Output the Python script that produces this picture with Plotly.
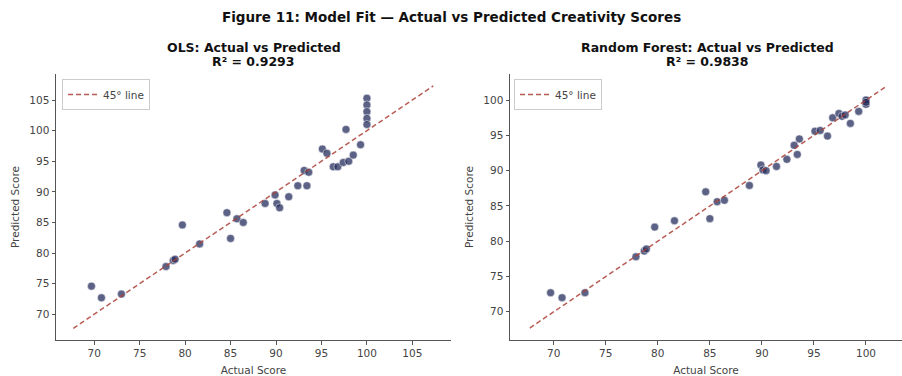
import plotly.graph_objects as go

# ---- data ----
actual = [69.7, 70.8, 73.0, 77.9, 78.7, 78.9, 79.7, 81.6, 84.6, 85.0,
          85.7, 86.4, 88.8, 89.9, 90.1, 90.4, 91.4, 92.4, 93.4, 93.1,
          93.6, 95.1, 95.6, 96.3, 96.8, 97.4, 97.7, 98.0, 98.5, 99.3,
          100.0, 100.0, 100.0, 100.0, 100.0]
pred_ols = [74.6, 72.7, 73.3, 77.8, 78.8, 79.0, 84.6, 81.5, 86.6, 82.4,
            85.6, 85.0, 88.1, 89.5, 88.1, 87.4, 89.2, 91.0, 91.0, 93.5,
            93.2, 97.0, 96.3, 94.1, 94.1, 94.8, 100.2, 95.0, 96.0, 97.7,
            105.3, 104.2, 103.1, 102.0, 101.0]
pred_rf = [72.7, 72.0, 72.7, 77.8, 78.6, 78.9, 82.0, 82.9, 87.0, 83.2,
           85.6, 85.8, 87.9, 90.8, 90.1, 90.0, 90.6, 91.6, 92.3, 93.6,
           94.5, 95.6, 95.7, 94.9, 97.5, 98.1, 97.7, 97.9, 96.7, 98.4,
           99.9, 99.6, 99.4, 100.0, 99.7]

fig_title = "Figure 11: Model Fit \u2014 Actual vs Predicted Creativity Scores"
panel_titles = [["OLS: Actual vs Predicted", "R\u00b2 = 0.9293"],
                ["Random Forest: Actual vs Predicted", "R\u00b2 = 0.9838"]]
x_label = "Actual Score"
y_label = "Predicted Score"
legend_label = "45\u00b0 line"
ticks_ols = [70, 75, 80, 85, 90, 95, 100, 105]
ticks_rf = [70, 75, 80, 85, 90, 95, 100]

W, H = 902, 376
FONT = "DejaVu Sans"
PT_COLOR = "rgba(38,45,92,0.75)"
LINE_COLOR = "rgba(170,65,55,0.85)"
AX_COLOR = "#555555"
TXT = "#444444"

fig = go.Figure()

panels = [
    dict(pred=pred_ols, xa="x", ya="y", leg="legend", ticks=ticks_ols,
         xdom=[56 / W, 451 / W], xr=[65.8, 109.25], yr=[65.8, 109.25], cx=253.5),
    dict(pred=pred_rf, xa="x2", ya="y2", leg="legend2", ticks=ticks_rf,
         xdom=[510 / W, 1.0], xr=[65.8, 103.46], yr=[66.0, 103.7], cx=707),
]

ydom = [1 - 340 / H, 1 - 74 / H]

for i, p in enumerate(panels):
    lo = min(min(actual), min(p["pred"])) - 2
    hi = max(max(actual), max(p["pred"])) + 2
    fig.add_trace(go.Scatter(
        x=actual, y=p["pred"], mode="markers", xaxis=p["xa"], yaxis=p["ya"],
        marker=dict(size=8, color=PT_COLOR, line=dict(width=0.5, color="white")),
        showlegend=False, hoverinfo="x+y"))
    fig.add_trace(go.Scatter(
        x=[lo, hi], y=[lo, hi], mode="lines", xaxis=p["xa"], yaxis=p["ya"],
        line=dict(color=LINE_COLOR, width=1.5, dash="5px,3px"),
        name=legend_label, legend=p["leg"], showlegend=True))

    sfx = "" if i == 0 else "2"
    axis_common = dict(
        showgrid=False, zeroline=False, showline=True, linecolor=AX_COLOR,
        linewidth=1, ticks="outside", ticklen=3.5, tickwidth=1,
        tickcolor=AX_COLOR, tickfont=dict(family=FONT, size=10.5, color=TXT),
        tickvals=p["ticks"], mirror=False)
    fig.update_layout(**{
        "xaxis" + sfx: dict(axis_common, domain=p["xdom"], range=p["xr"],
                            anchor="y" + sfx,
                            title=dict(text=x_label, standoff=8,
                                       font=dict(family=FONT, size=10.5, color=TXT))),
        "yaxis" + sfx: dict(axis_common, domain=ydom, range=p["yr"],
                            anchor="x" + sfx,
                            title=dict(text=y_label, standoff=7,
                                       font=dict(family=FONT, size=10.5, color=TXT))),
    })
    for j, line in enumerate(panel_titles[i]):
        fig.add_annotation(text="<b>" + line + "</b>",
                           x=p["cx"] / W, y=1 - (47 + 15 * j) / H,
                           xref="paper", yref="paper",
                           xanchor="center", yanchor="middle", showarrow=False,
                           font=dict(family=FONT, size=12.5, color="#111111"))

leg_common = dict(xanchor="left", yanchor="top", bgcolor="rgba(255,255,255,0.9)",
                  bordercolor="#cccccc", borderwidth=1,
                  font=dict(family=FONT, size=10.5, color=TXT),
                  itemwidth=30, tracegroupgap=0)
fig.update_layout(
    legend=dict(leg_common, x=62 / W, y=1 - 79 / H),
    legend2=dict(leg_common, x=514 / W, y=1 - 79 / H),
)

fig.add_annotation(text="<b>" + fig_title + "</b>", x=0.5, y=1 - 17 / H,
                   xref="paper", yref="paper", xanchor="center", yanchor="middle",
                   showarrow=False, font=dict(family=FONT, size=13.5, color="#111111"))

fig.update_layout(width=W, height=H, margin=dict(l=0, r=0, t=0, b=0),
                  paper_bgcolor="white", plot_bgcolor="white",
                  font=dict(family=FONT))

fig.write_html("out.html")
